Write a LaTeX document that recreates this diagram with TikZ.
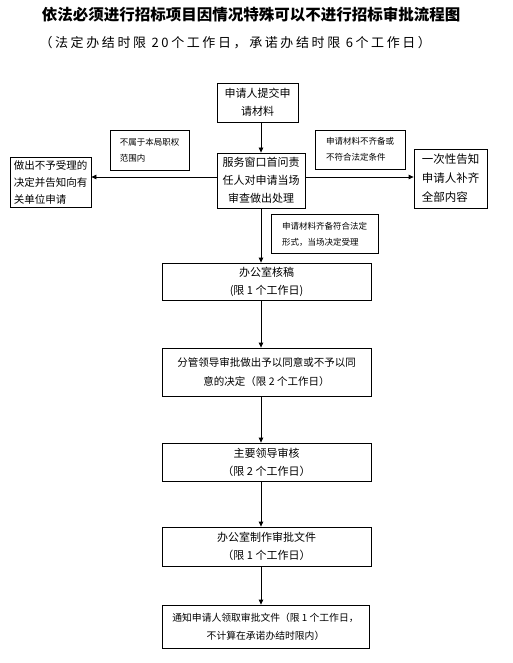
\documentclass[tikz,border=0pt]{standalone}
\usepackage{fontspec}
\setmainfont{Noto Sans CJK SC}
\newfontfamily\subfont[LetterSpace=20]{Noto Sans CJK SC}
\usetikzlibrary{arrows.meta}
\begin{document}
\begin{tikzpicture}[x=1pt,y=-1pt,
  box/.style={draw,line width=0.8pt,inner sep=0pt,font=\fontsize{11}{18}\selectfont,align=center},
  lbl/.style={draw,line width=0.8pt,inner sep=0pt,font=\fontsize{8.5}{16}\selectfont,align=left},
  arr/.style={line width=0.8pt,-{Triangle[length=5pt,width=4.5pt]}}]
\useasboundingbox (0,0) rectangle (512,663);
\node[font=\fontsize{15.5}{15.5}\selectfont\bfseries] (title) at (251,15) {依法必须进行招标项目因情况特殊可以不进行招标审批流程图};
\node[font=\fontsize{13}{13}\selectfont\subfont,anchor=west] (sub) at (36,43) {（法定办结时限 20个工作日，承诺办结时限 6个工作日）};

\node[box,minimum width=81pt,minimum height=39pt] (b1) at (257.5,102.5) {申请人提交申\\请材料};
\node[box,minimum width=88pt,minimum height=55pt] (b2) at (261,180.5) {服务窗口首问责\\任人对申请当场\\审查做出处理};
\node[box,align=left,font=\fontsize{10.5}{17}\selectfont,minimum width=81pt,minimum height=50pt] (lb) at (50.5,182) {做出不予受理的\\决定并告知向有\\关单位申请};
\node[lbl,minimum width=79pt,minimum height=40pt] (ll) at (149.5,150) {不属于本局职权\\范围内};
\node[lbl,minimum width=90pt,minimum height=39pt] (rl) at (360,149.5) {申请材料不齐备或\\不符合法定条件};
\node[box,align=left,font=\fontsize{11.5}{19}\selectfont,minimum width=73pt,minimum height=59pt] (rb) at (450.5,178.5) {一次性告知\\申请人补齐\\全部内容};
\node[lbl,minimum width=107pt,minimum height=39pt] (bl) at (324.5,234) {申请材料齐备符合法定\\形式，当场决定受理};

\node[box,minimum width=209pt,minimum height=37pt] (b3) at (266.5,281.5) {办公室核稿\\(限 1 个工作日)};
\node[box,font=\fontsize{10.5}{19}\selectfont,minimum width=209pt,minimum height=48pt] (b4) at (266.5,372) {分管领导审批做出予以同意或不予以同\\意的决定（限 2 个工作日）};
\node[box,minimum width=209pt,minimum height=38pt] (b5) at (266.5,462) {主要领导审核\\（限 2 个工作日）};
\node[box,minimum width=209pt,minimum height=39pt] (b6) at (266.5,546.5) {办公室制作审批文件\\（限 1 个工作日）};
\node[box,font=\fontsize{9.8}{18}\selectfont,minimum width=207pt,minimum height=43pt] (b7) at (265.5,626.5) {通知申请人领取审批文件（限 1 个工作日，\\不计算在承诺办结时限内）};

\draw[arr] (b1.south -| b2.south) -- (b2.north);
\draw[arr] (b2.west) ++(0,-3.5) coordinate (lw) (lw) -- (lw -| lb.east);
\draw[arr] (b2.east) ++(0,-3.5) coordinate (rw) (rw) -- (rw -| rb.west);
\draw[arr] (b2.south) -- (b2.south |- b3.north);
\draw[arr] (b2.south |- b3.south) -- (b2.south |- b4.north);
\draw[arr] (b2.south |- b4.south) -- (b2.south |- b5.north);
\draw[arr] (b2.south |- b5.south) -- (b2.south |- b6.north);
\draw[arr] (b2.south |- b6.south) -- (b2.south |- b7.north);
\end{tikzpicture}
\end{document}
